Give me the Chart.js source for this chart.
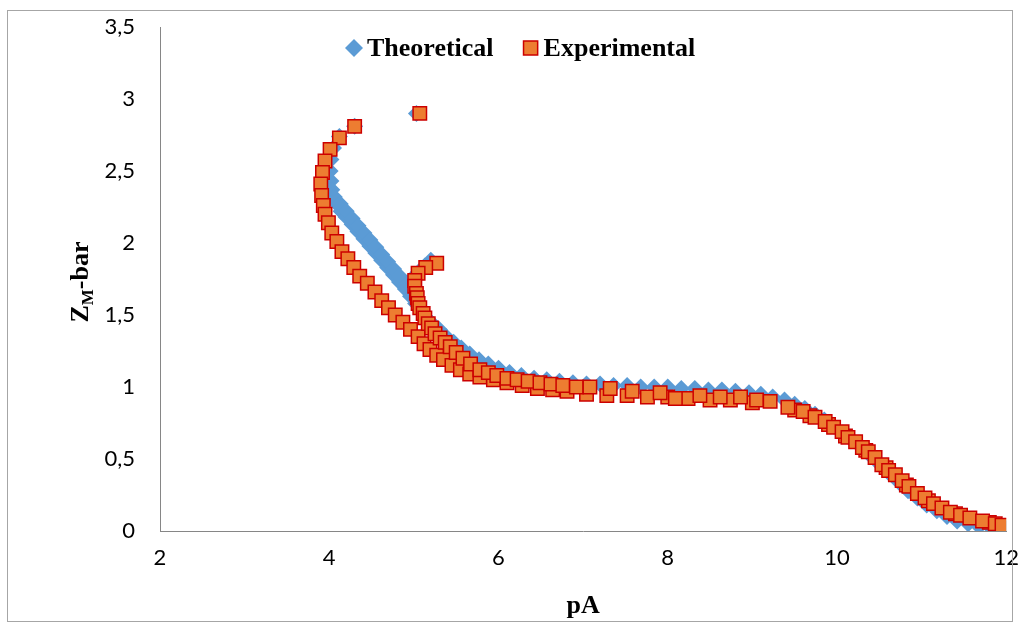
<!DOCTYPE html>
<html>
<head>
<meta charset="utf-8">
<title>Z_M-bar vs pA</title>
<script src="https://cdn.jsdelivr.net/npm/chart.js"></script>
<style>
  html, body { margin: 0; padding: 0; background: #fff; }
  #wrap { width: 1019px; height: 628px; }
</style>
</head>
<body>
<div id="wrap"><canvas id="chart" width="1019" height="628"></canvas></div>
<script>
"use strict";

// 軸の目盛り
const xTicks = [2, 4, 6, 8, 10, 12];
const yTicks = [0, 0.5, 1, 1.5, 2, 2.5, 3, 3.5];
const yTickLabels = ["0", "0,5", "1", "1,5", "2", "2,5", "3", "3,5"];

const seriesNames = ["Theoretical", "Experimental"];

// Theoretical (青のひし形)
const theoX = [
  5.03, 4.30, 4.12, 4.05, 4.02, 4.01, 4.02, 4.03, 4.05, 4.09,
  4.14, 4.20, 4.27, 4.34, 4.41, 4.48, 4.55, 4.62, 4.69, 4.76,
  4.83, 4.90, 4.96, 5.02,
  // 帯の上側の列
  4.06, 4.13, 4.20, 4.27, 4.34, 4.41, 4.48, 4.55, 4.62, 4.69,
  4.76, 4.83,
  5.20, 5.13, 5.06, 4.99, 4.93,
  5.08, 5.15, 5.22, 5.30, 5.38, 5.47, 5.56, 5.66, 5.77, 5.88,
  6.00, 6.13, 6.27, 6.42, 6.57, 6.72, 6.88, 7.04, 7.20, 7.36,
  7.52, 7.68, 7.84, 8.00, 8.16, 8.32, 8.48, 8.64, 8.80, 8.96,
  9.10, 9.24, 9.38, 9.50, 9.62, 9.74, 9.85, 9.96, 10.07, 10.18,
  10.29, 10.40, 10.51, 10.62, 10.73, 10.84, 10.95, 11.06, 11.18, 11.30,
  11.42, 11.55, 11.68, 11.82, 11.98
];
const theoY = [
  2.90, 2.81, 2.74, 2.66, 2.58, 2.50, 2.43, 2.37, 2.31, 2.27,
  2.22, 2.18, 2.13, 2.08, 2.03, 1.98, 1.93, 1.88, 1.83, 1.78,
  1.73, 1.68, 1.63, 1.58,
  2.32, 2.27, 2.22, 2.17, 2.12, 2.07, 2.02, 1.97, 1.92, 1.87,
  1.82, 1.77,
  1.88, 1.84, 1.80, 1.76, 1.72,
  1.53, 1.48, 1.44, 1.40, 1.35, 1.31, 1.27, 1.23, 1.19, 1.16,
  1.13, 1.10, 1.08, 1.06, 1.05, 1.04, 1.03, 1.02, 1.02, 1.01,
  1.01, 1.00, 1.00, 1.00, 0.99, 0.99, 0.98, 0.98, 0.97, 0.96,
  0.95, 0.93, 0.91, 0.88, 0.85, 0.81, 0.77, 0.73, 0.68, 0.63,
  0.58, 0.52, 0.46, 0.40, 0.34, 0.28, 0.23, 0.18, 0.14, 0.10,
  0.07, 0.05, 0.03, 0.02, 0.03
];

// Experimental (オレンジの四角)
const expX = [
  // 下側の枝
  4.30, 4.12, 4.01, 3.95, 3.92, 3.90, 3.91, 3.93, 3.95, 3.99,
  4.03, 4.09, 4.15, 4.22, 4.29, 4.36, 4.45, 4.54, 4.62, 4.70,
  4.78, 4.87, 4.96, 5.05, 5.12, 5.19, 5.27, 5.35, 5.45, 5.55,
  5.66, 5.78, 5.94, 6.10, 6.28, 6.46, 6.64, 6.81, 7.04, 7.28,
  7.52, 7.76, 8.00, 8.24, 8.50, 8.74, 9.00,
  9.50, 9.68, 9.90, 10.10, 10.34, 10.58, 10.82, 11.08, 11.40, 11.80,
  // 上側の枝
  5.07, 5.27, 5.14, 5.05, 5.01, 5.01, 5.03, 5.04, 5.05, 5.07,
  5.11, 5.13, 5.17, 5.21, 5.25, 5.31, 5.37, 5.43, 5.50, 5.58,
  5.67, 5.78, 5.88, 5.98, 6.10, 6.22, 6.35, 6.49, 6.62, 6.76,
  6.92, 7.08, 7.32, 7.58, 7.91, 8.09, 8.38, 8.62, 8.86, 9.05,
  9.21, 9.42, 9.60, 9.74, 9.86, 9.96, 10.06, 10.13, 10.22, 10.30,
  10.37, 10.45, 10.53, 10.61, 10.69, 10.77, 10.85, 10.95, 11.04, 11.14,
  11.24, 11.34, 11.46, 11.57, 11.72, 11.87, 11.95
];
const expY = [
  2.81, 2.73, 2.65, 2.57, 2.49, 2.41, 2.33, 2.26, 2.20, 2.14,
  2.07, 2.01, 1.94, 1.89, 1.83, 1.77, 1.72, 1.66, 1.60, 1.55,
  1.50, 1.45, 1.40, 1.35, 1.30, 1.26, 1.22, 1.19, 1.15, 1.12,
  1.09, 1.07, 1.05, 1.03, 1.01, 0.99, 0.98, 0.97, 0.95, 0.94,
  0.94, 0.93, 0.93, 0.92, 0.91, 0.91, 0.89,
  0.84, 0.80, 0.74, 0.66, 0.56, 0.44, 0.32, 0.21, 0.12, 0.06,
  2.90, 1.86, 1.83, 1.79, 1.74, 1.70, 1.65, 1.62, 1.58, 1.55,
  1.51, 1.48, 1.44, 1.41, 1.37, 1.34, 1.31, 1.28, 1.24, 1.20,
  1.16, 1.12, 1.10, 1.08, 1.06, 1.05, 1.04, 1.03, 1.02, 1.01,
  1.00, 1.00, 0.99, 0.97, 0.96, 0.92, 0.94, 0.93, 0.93, 0.91,
  0.90, 0.86, 0.83, 0.79, 0.76, 0.72, 0.69, 0.65, 0.62, 0.58,
  0.55, 0.51, 0.46, 0.42, 0.39, 0.35, 0.31, 0.26, 0.23, 0.19,
  0.16, 0.13, 0.11, 0.09, 0.07, 0.05, 0.04
];

const BLUE = "#5B9BD5";
const ORANGE = "#ED7D31";
const RED = "#CC0000";
const AXIS_GRAY = "#868686";
const TICK_FONT = { family: "Lato", size: 22 };
const TITLE_FONT = "bold 26px 'Liberation Serif', 'Times New Roman', serif";

function toPoints(xs, ys) {
  return xs.map((x, i) => ({ x: x, y: ys[i] }));
}

// 外枠
const framePlugin = {
  id: "frame",
  afterDraw(chart) {
    const ctx = chart.ctx;
    ctx.save();
    ctx.strokeStyle = "#a6a6a6";
    ctx.lineWidth = 1;
    ctx.strokeRect(7.5, 10.5, 1005, 611);
    ctx.restore();
  }
};

// Y軸タイトル (下付き文字 M があるので自前で描く)
const yTitlePlugin = {
  id: "yTitle",
  afterDraw(chart) {
    const ctx = chart.ctx;
    ctx.save();
    ctx.translate(88, 282);
    ctx.rotate(-Math.PI / 2);
    ctx.fillStyle = "#000";
    ctx.textBaseline = "alphabetic";
    const subFont = "bold 17px 'Liberation Serif', 'Times New Roman', serif";
    ctx.font = TITLE_FONT;
    const wZ = ctx.measureText("Z").width;
    const wBar = ctx.measureText("-bar").width;
    ctx.font = subFont;
    const wM = ctx.measureText("M").width;
    let x = -(wZ + wM + wBar) / 2;
    ctx.font = TITLE_FONT;
    ctx.fillText("Z", x, 0);
    x += wZ;
    ctx.font = subFont;
    ctx.fillText("M", x, 5);
    x += wM;
    ctx.font = TITLE_FONT;
    ctx.fillText("-bar", x, 0);
    ctx.restore();
  }
};

// 凡例 (プロット領域の上部に重ねて描く)
const legendPlugin = {
  id: "overlayLegend",
  afterDraw(chart) {
    const ctx = chart.ctx;
    const y = 48;
    let x = 354;
    ctx.save();
    ctx.font = TITLE_FONT;
    ctx.textBaseline = "middle";
    chart.data.datasets.forEach((ds) => {
      const style = {
        pointStyle: ds.pointStyle,
        radius: ds.pointStyle === "rect" ? 10 : 9,
        rotation: 0,
        borderWidth: ds.pointBorderWidth
      };
      ctx.fillStyle = ds.pointBackgroundColor;
      ctx.strokeStyle = ds.pointBorderColor;
      ctx.lineWidth = ds.pointBorderWidth;
      Chart.helpers.drawPoint(ctx, style, x, y);
      ctx.fillStyle = "#000";
      ctx.fillText(ds.label, x + 13, y + 1);
      x += 13 + ctx.measureText(ds.label).width + 37;
    });
    ctx.restore();
  }
};

// 目盛り線は見えないようにして、ラベルと軸の間隔だけに使う
function hiddenTicks(len) {
  return {
    display: true,
    drawOnChartArea: false,
    drawTicks: true,
    tickLength: len,
    color: "rgba(0,0,0,0)"
  };
}

new Chart(document.getElementById("chart"), {
  type: "scatter",
  data: {
    datasets: [
      {
        label: seriesNames[0],
        data: toPoints(theoX, theoY),
        pointStyle: "rectRot",
        pointRadius: 8.5,
        pointHoverRadius: 8.5,
        pointBackgroundColor: BLUE,
        pointBorderColor: BLUE,
        pointBorderWidth: 0,
        order: 2
      },
      {
        label: seriesNames[1],
        data: toPoints(expX, expY),
        pointStyle: "rect",
        pointRadius: 9.5,
        pointHoverRadius: 9.5,
        pointBackgroundColor: ORANGE,
        pointBorderColor: RED,
        pointBorderWidth: 1.5,
        order: 1
      }
    ]
  },
  options: {
    responsive: false,
    animation: false,
    devicePixelRatio: 1,
    layout: { padding: { left: 0, right: 0, top: 27, bottom: 0 } },
    plugins: {
      legend: { display: false },
      tooltip: { enabled: false }
    },
    scales: {
      x: {
        type: "linear",
        min: xTicks[0],
        max: xTicks[xTicks.length - 1],
        afterBuildTicks: (scale) => { scale.ticks = xTicks.map(v => ({ value: v })); },
        afterFit: (scale) => { scale.height = 97; },
        grid: hiddenTicks(14),
        border: { display: true, color: AXIS_GRAY, width: 1 },
        ticks: { color: "#000", font: TICK_FONT, padding: 0, maxRotation: 0 },
        title: {
          display: true,
          text: "pA",
          color: "#000",
          font: { family: "'Liberation Serif', 'Times New Roman', serif", size: 26, weight: "bold" },
          padding: { top: 0, bottom: 6 }
        }
      },
      y: {
        type: "linear",
        min: yTicks[0],
        max: yTicks[yTicks.length - 1],
        afterBuildTicks: (scale) => { scale.ticks = yTicks.map(v => ({ value: v })); },
        afterFit: (scale) => { scale.width = 160; },
        grid: hiddenTicks(25),
        border: { display: true, color: AXIS_GRAY, width: 1 },
        ticks: {
          color: "#000",
          font: TICK_FONT,
          padding: 0,
          callback: (value, index) => yTickLabels[index]
        }
      }
    }
  },
  plugins: [framePlugin, yTitlePlugin, legendPlugin]
});
</script>
</body>
</html>
